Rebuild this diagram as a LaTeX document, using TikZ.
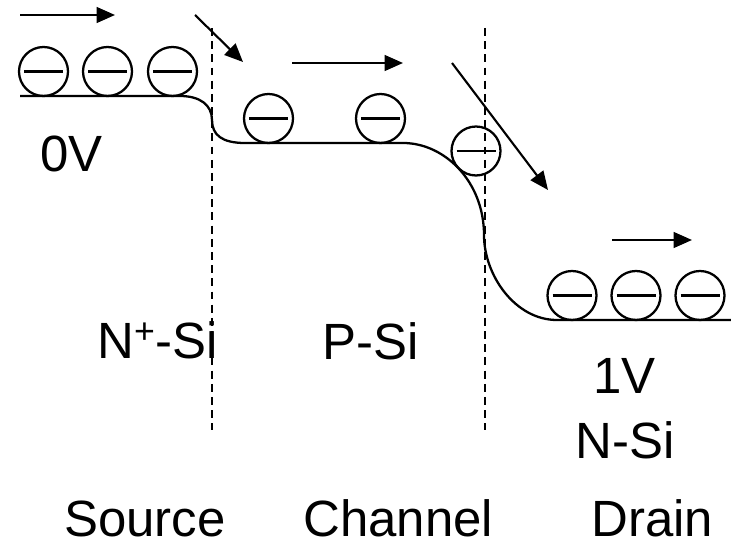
\documentclass[tikz,border=0pt]{standalone}
\usepackage{fontspec}
\setmainfont{Liberation Sans}
\usetikzlibrary{arrows.meta}

\begin{document}
\begin{tikzpicture}[x=0.02cm,y=-0.02cm,
    band/.style={line width=1.3pt},
    junction/.style={line width=0.9pt,dash pattern=on 4.5pt off 3pt},
    move/.style={line width=1.2pt,-{Triangle[length=10.5pt,width=9pt]}},
    lbl/.style={inner sep=0pt,anchor=base west,font=\fontsize{29}{34}\selectfont}]
    \useasboundingbox (0,0) rectangle (731,547);
    % junction boundaries
    \draw[junction] (212,28) -- (212,430);
    \draw[junction] (485,28) -- (485,430);
    % band edge
    \draw[band] (20,96) -- (180,96) .. controls (200,96) and (212,105) .. (212,120)
        .. controls (212,135) and (222,143) .. (245,143) -- (403,143)
        .. controls (445,143) and (484,182) .. (484,235)
        .. controls (484,275) and (515,320) .. (557,320) -- (731,320);
    % electrons
    \foreach \x/\y in {43.5/71.5,107.5/71.5,172.5/71.5,268.5/118.5,380.5/118.5,476/151,572/295.5,636/295.5,700/295.5} {
        \draw[band] (\x,\y) circle[radius=24.5];
        \draw[band] (\x-19.5,\y) -- (\x+19.5,\y);
    }
    % motion
    \draw[move] (20,15) -- (115,15);
    \draw[move] (195,15) -- (243,62);
    \draw[move] (292,63) -- (403,63);
    \draw[move] (452,63) -- (548,190);
    \draw[move] (612,240) -- (692,240);
    % labels
    \node[lbl] (vs) at (40,172) {0V};
    \node[lbl] (nplus) at (97,359) {N\textsuperscript{+}-Si};
    \node[lbl] (psi) at (322,360) {P-Si};
    \node[lbl] (vd) at (593,394) {1V};
    \node[lbl] (nsi) at (575,459) {N-Si};
    \node[lbl] (src) at (64,537) {Source};
    \node[lbl] (chan) at (303,537) {Channel};
    \node[lbl] (drn) at (591,537) {Drain};
\end{tikzpicture}
\end{document}
